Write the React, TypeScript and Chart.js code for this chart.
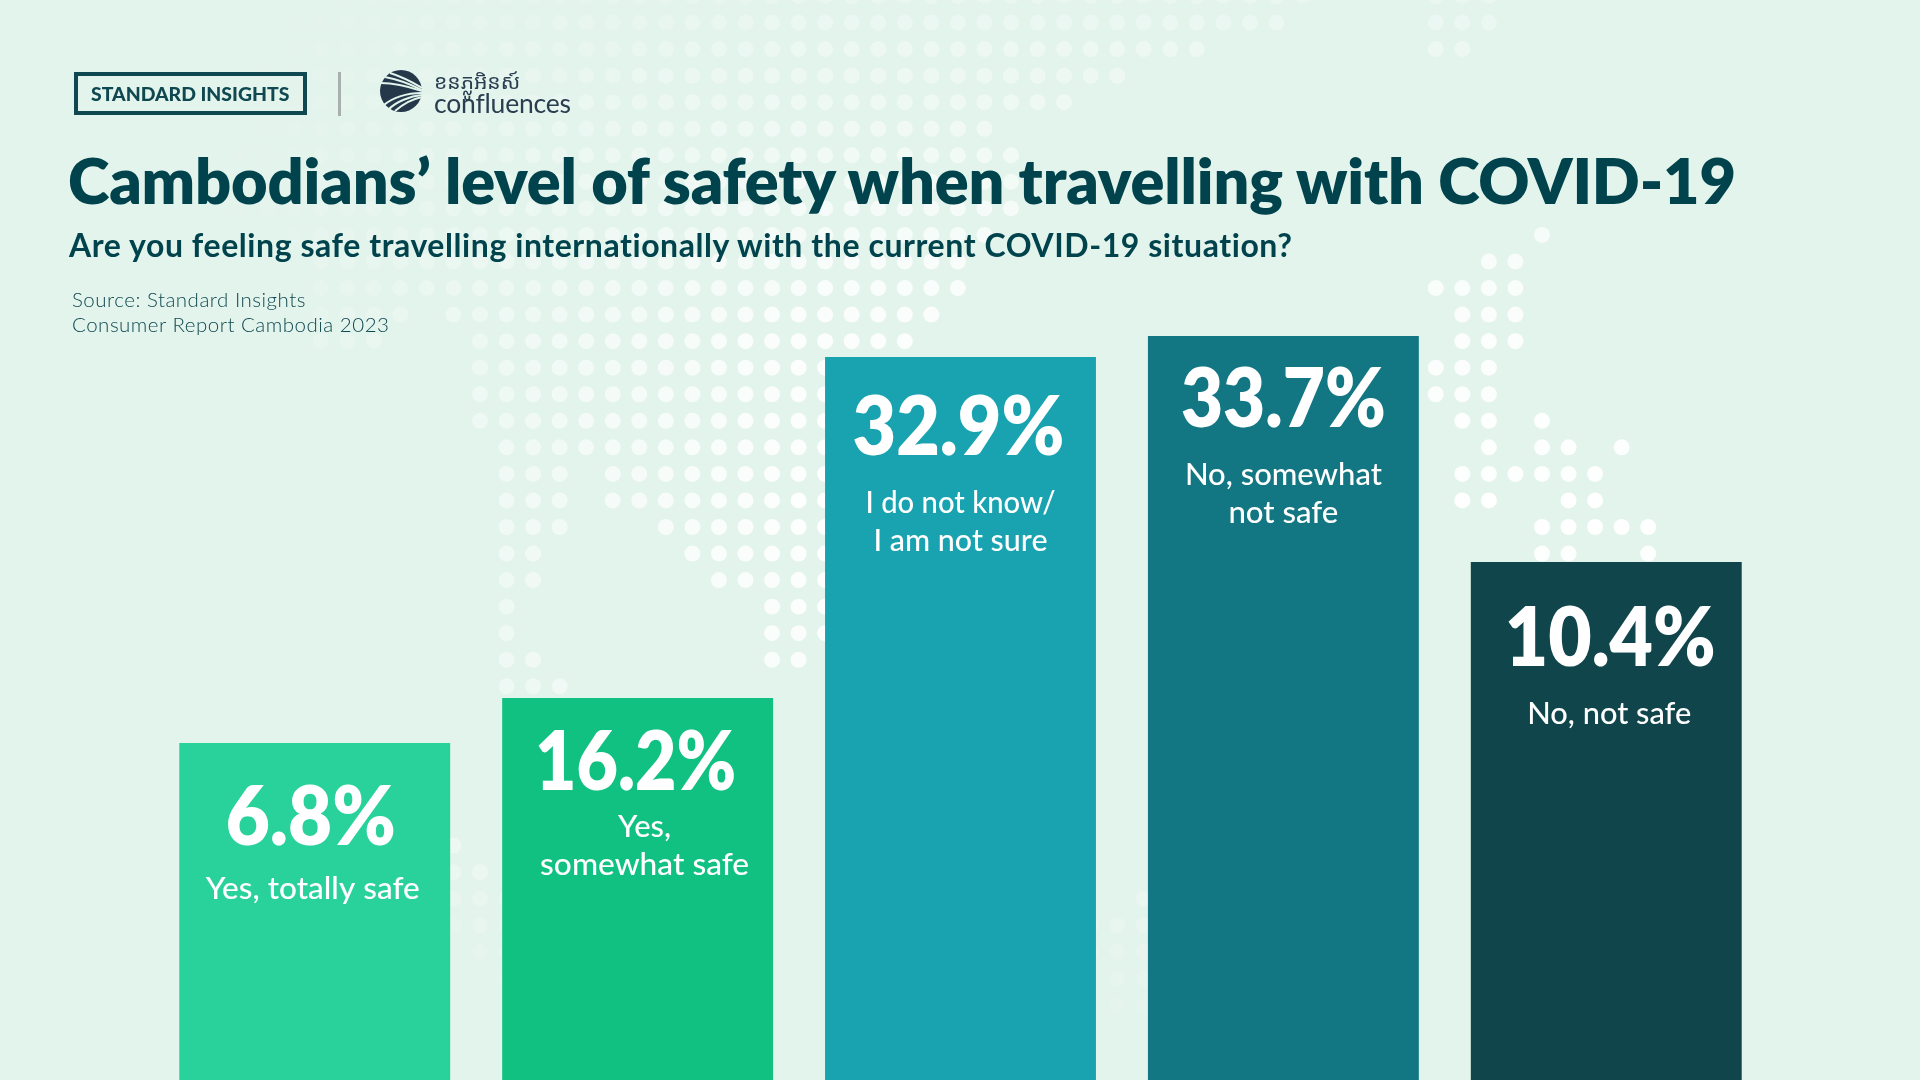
import React, { useEffect, useRef } from "react";
import { Chart, registerables } from "chart.js";

Chart.register(...registerables);

const categories = [
  ["Yes, totally safe"],
  ["Yes,", "somewhat safe"],
  ["I do not know/", "I am not sure"],
  ["No, somewhat", "not safe"],
  ["No, not safe"],
];
const shareLabels = ["6.8%", "16.2%", "32.9%", "33.7%", "10.4%"];
// The published bars are not drawn to scale with their labels, so heights are read off the picture.
const barHeights = [337, 382, 723, 744, 518];
const barColors = ["#29D19B", "#11C182", "#19A2AF", "#137783", "#0F454B"];

const titleText = "Cambodians’ level of safety when travelling with COVID-19";
const subtitleText = "Are you feeling safe travelling internationally with the current COVID-19 situation?";
const sourceLines = ["Source: Standard Insights", "Consumer Report Cambodia 2023"];

// Background dot map: [row, firstColumn, lastColumn] runs on a regular grid.
const dotRuns = [
  [0,-5,31],[0,36,38],[1,-7,30],[1,36,38],[2,-7,27],[2,36,37],[3,-8,24],[4,-8,22],[5,-9,19],[6,-9,20],[7,-9,20],[8,-9,20],
  [9,-7,19],[9,40,40],[10,-6,18],[10,38,39],[11,-6,18],[11,36,39],[12,-6,-3],[12,-1,17],[12,37,39],[13,-6,-4],[13,0,16],[13,37,39],
  [14,0,16],[14,36,38],[15,0,16],[15,36,38],[16,0,16],[16,37,38],[16,40,40],[17,1,16],[17,38,38],[17,40,41],[17,43,43],
  [18,1,3],[18,5,16],[18,37,42],[19,1,3],[19,5,16],[19,37,38],[19,41,42],[20,1,3],[20,7,16],[20,40,44],[21,1,2],[21,8,16],[21,40,41],[21,44,44],
  [22,1,2],[22,9,16],[23,1,1],[23,11,16],[24,1,1],[24,11,16],[25,1,2],[25,11,12],[26,1,3],
  [32,-1,-1],[33,-1,0],[34,-1,1],[34,25,25],[35,-1,1],[35,23,25],[36,0,1],[36,23,25],[37,1,1],[37,24,25],[38,24,25],[39,24,24],
];

function dotAlpha(x: number, y: number) {
  const h = Math.min(1, Math.max(0, (x - 200) / 620));
  const stops = [[0, 0.28], [75, 0.42], [130, 0.52], [235, 0.72], [340, 0.92], [520, 1], [700, 0.85], [840, 0.5], [900, 0.26], [960, 0.14], [1040, 0.02]];
  let g = 0.02;
  for (let i = 1; i < stops.length; i++) {
    if (y <= stops[i][0]) {
      const t = (y - stops[i - 1][0]) / (stops[i][0] - stops[i - 1][0]);
      g = stops[i - 1][1] + t * (stops[i][1] - stops[i - 1][1]);
      break;
    }
  }
  const lowerLeftBoost = x < 520 && y > 800 ? 2 : 1;
  return Math.min(1, h * g * 0.95 * lowerLeftBoost);
}

const dotMapPlugin = {
  id: "dotMap",
  beforeDatasetsDraw(chart: any) {
    const ctx = chart.ctx;
    ctx.save();
    for (const [row, from, to] of dotRuns) {
      for (let c = from; c <= to; c++) {
        const x = 480 + 26.55 * c;
        const y = -4 + 26.55 * row;
        ctx.fillStyle = `rgba(255,255,255,${dotAlpha(x, y)})`;
        ctx.beginPath();
        ctx.arc(x, y, 8, 0, Math.PI * 2);
        ctx.fill();
      }
    }
    ctx.restore();
  },
};

// Label placement inside each bar, relative to the bar's top and centre.
const valueDrop = [102, 92, 98, 91, 104];
const valueNudge = [-4, -2, -2, 0, 4];
const valueWidth = [170, 201, 212, 205, 211];
const captionDrop = [54, 47, 58, 58, 58];
const captionNudge = [-2, 7, 0, 0, 3];
const captionWidths = [[214], [53, 209], [190, 174], [197, 110], [164]];
const captionStep = 37.8;

function fitText(ctx: any, text: string, cx: number, baseline: number, width: number) {
  const natural = ctx.measureText(text).width;
  ctx.save();
  ctx.translate(cx, baseline);
  ctx.scale(width / natural, 1);
  ctx.fillText(text, 0, 0);
  ctx.restore();
}

const barLabelPlugin = {
  id: "barLabels",
  afterDatasetsDraw(chart: any) {
    const ctx = chart.ctx;
    const bars = chart.getDatasetMeta(0).data;
    ctx.save();
    ctx.fillStyle = "#FFFFFF";
    ctx.textAlign = "center";
    ctx.textBaseline = "alphabetic";
    bars.forEach((bar: any, i: number) => {
      const base = bar.y + valueDrop[i];
      ctx.font = '800 82px Lato';
      fitText(ctx, shareLabels[i], bar.x + valueNudge[i], base, valueWidth[i]);
      ctx.font = '500 30px Lato';
      categories[i].forEach((line, k) => {
        fitText(ctx, line, bar.x + captionNudge[i], base + captionDrop[i] + k * captionStep, captionWidths[i][k]);
      });
    });
    ctx.restore();
  },
};

function Txt({ x, baseline, size, weight, color, spacing, children, font }: any) {
  return (
    <div
      style={{
        position: "absolute",
        left: x,
        top: baseline - size * 0.887,
        fontFamily: font || "Lato",
        fontSize: size,
        fontWeight: weight,
        color,
        letterSpacing: spacing || 0,
        lineHeight: 1,
        whiteSpace: "nowrap",
      }}
    >
      {children}
    </div>
  );
}

export default function App() {
  const ref = useRef<HTMLCanvasElement>(null);
  useEffect(() => {
    const chart = new Chart(ref.current as HTMLCanvasElement, {
      type: "bar",
      data: {
        labels: categories.map((c) => c.join(" ")),
        datasets: [{ data: barHeights, backgroundColor: barColors, barPercentage: 0.839, categoryPercentage: 1, borderWidth: 0 }],
      },
      options: {
        responsive: false,
        animation: false,
        layout: { padding: { left: 153.3, right: 152.3, top: 0, bottom: 0 } },
        scales: {
          x: { display: false },
          y: { display: false, min: 0, max: 1080 },
        },
        plugins: { legend: { display: false }, title: { display: false }, tooltip: { enabled: false } },
      },
      plugins: [dotMapPlugin, barLabelPlugin],
    } as any);
    return () => chart.destroy();
  }, []);

  return (
    <div style={{ position: "absolute", left: 0, top: 0, width: 1920, height: 1080, background: "#E3F4EC", overflow: "hidden" }}>
      <canvas ref={ref} width={1920} height={1080} style={{ position: "absolute", left: 0, top: 0, display: "block" }} />
      <div style={{ position: "absolute", left: 74, top: 72, width: 233, height: 43, boxSizing: "border-box", border: "4px solid #0F4850" }} />
      <Txt x={91} baseline={101} size={19.4} weight={900} color="#0F4850">STANDARD INSIGHTS</Txt>
      <div style={{ position: "absolute", left: 338, top: 72, width: 3, height: 44, background: "#A9AEAE" }} />
      <svg style={{ position: "absolute", left: 380, top: 70 }} width={42} height={42} viewBox="0 0 42 42">
        <circle cx={21} cy={21} r={21} fill="#24384A" />
        <g fill="none" stroke="#E3F4EC" strokeWidth={2}>
          <path d="M10 3 C20 6 32 12 42 18" />
          <path d="M5 7 C16 9 30 14 42 20" />
          <path d="M1 13 C14 13 30 17 42 21" />
          <path d="M4 35 C12 28 26 23 42 23" />
          <path d="M9 39 C16 32 30 26 42 25" />
          <path d="M15 41 C22 35 32 29 42 27" />
        </g>
      </svg>
      <Txt x={434} baseline={90} size={21} weight={400} color="#2A3E50" font="'Noto Sans Khmer','Noto Sans',Lato">ខនភ្លូអិនស៍</Txt>
      <Txt x={434} baseline={114} size={26.5} weight={400} color="#2A3E50" spacing={-0.2}>confluences</Txt>
      <Txt x={68} baseline={204} size={63} weight={800} color="#00434D" spacing={-0.15}>{titleText}</Txt>
      <Txt x={69} baseline={257.7} size={32} weight={700} color="#00434D" spacing={0.57}>{subtitleText}</Txt>
      {sourceLines.map((line, i) => (
        <Txt key={line} x={72} baseline={307 + i * 25.2} size={20.5} weight={300} color="#0F4850" spacing={0.5}>{line}</Txt>
      ))}
    </div>
  );
}
